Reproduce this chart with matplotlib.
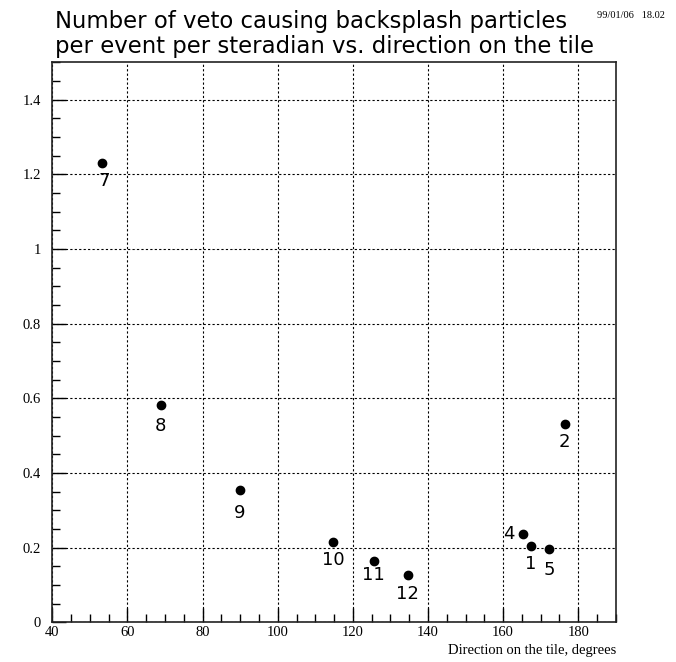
import matplotlib
matplotlib.use("Agg")
import matplotlib.pyplot as plt
from matplotlib.ticker import MultipleLocator

# tile number, direction (degrees), particles per event per steradian
tile_ids = ["7", "8", "9", "10", "11", "12", "4", "1", "5", "2"]
direction = [53.1, 68.9, 89.9, 114.7, 125.7, 134.7, 165.3, 167.3, 172.2, 176.4]
rate = [1.231, 0.582, 0.354, 0.216, 0.165, 0.127, 0.237, 0.205, 0.195, 0.531]

# label offsets from the marker, in pixels (x right, y down)
label_dx = [3, 0, 0, 0, -1, -1, -14, 0, 0, 0]
label_dy = [18, 21, 23, 18, 14, 19, 0, 18, 21, 18]

fig = plt.figure(figsize=(6.76, 6.62), dpi=100)
ax = fig.add_axes([0.0774, 0.06, 0.911 - 0.0774, 0.906 - 0.06])

ax.plot(direction, rate, "o", color="black", markersize=6, zorder=3)

px = 72.0 / fig.dpi
for lab, x, y, dx, dy in zip(tile_ids, direction, rate, label_dx, label_dy):
    ax.annotate(lab, (x, y), xytext=(dx * px, -dy * px), textcoords="offset points",
                ha="center", va="center", fontsize=13, family="DejaVu Sans")

ax.set_xlim(40, 190)
ax.set_ylim(0, 1.5)
ax.xaxis.set_major_locator(MultipleLocator(20))
ax.xaxis.set_minor_locator(MultipleLocator(5))
ax.yaxis.set_minor_locator(MultipleLocator(0.05))
ax.set_yticks([0, 0.2, 0.4, 0.6, 0.8, 1.0, 1.2, 1.4])
ax.set_yticklabels(["0", "0.2", "0.4", "0.6", "0.8", "1", "1.2", "1.4"])

ax.tick_params(which="both", direction="in", color="black", width=1.0,
               top=False, right=False, labelsize=10.5)
ax.tick_params(which="major", length=10)
ax.tick_params(which="minor", length=6)
ax.tick_params(axis="y", which="major", pad=8)
ax.tick_params(axis="x", which="major", pad=3)
for t in ax.get_xticklabels() + ax.get_yticklabels():
    t.set_family("Liberation Serif")

ax.grid(which="major", color="black", linestyle=(0, (2, 2)), linewidth=0.8)
for s in ax.spines.values():
    s.set_linewidth(1.2)
    s.set_color("#222222")

fig.text(0.912, 1 - 662 / 662 + 0.008, "Direction on the tile, degrees", ha="right",
         va="bottom", fontsize=10.5, family="Liberation Serif")

fig.text(55 / 676, 1 - 28 / 662, "Number of veto causing backsplash particles",
         ha="left", va="baseline", fontsize=16.4, family="DejaVu Sans")
fig.text(55 / 676, 1 - 53 / 662, "per event per steradian vs. direction on the tile",
         ha="left", va="baseline", fontsize=16.4, family="DejaVu Sans")
fig.text(665 / 676, 1 - 18 / 662, "99/01/06   18.02", ha="right", va="baseline",
         fontsize=7.5, family="Liberation Serif")

fig.savefig("out.png", dpi=100)
